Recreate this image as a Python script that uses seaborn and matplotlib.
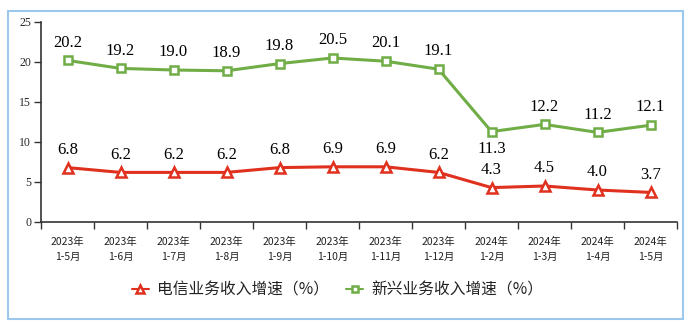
import matplotlib
matplotlib.use("Agg")
import matplotlib.pyplot as plt
import seaborn as sns
import pandas as pd
from matplotlib.patches import Rectangle

categories = ["2023年\n1-5月", "2023年\n1-6月", "2023年\n1-7月", "2023年\n1-8月", "2023年\n1-9月",
              "2023年\n1-10月", "2023年\n1-11月", "2023年\n1-12月", "2024年\n1-2月", "2024年\n1-3月",
              "2024年\n1-4月", "2024年\n1-5月"]
telecom = [6.8, 6.2, 6.2, 6.2, 6.8, 6.9, 6.9, 6.2, 4.3, 4.5, 4.0, 3.7]
emerging = [20.2, 19.2, 19.0, 18.9, 19.8, 20.5, 20.1, 19.1, 11.3, 12.2, 11.2, 12.1]
series_names = ["电信业务收入增速（%）", "新兴业务收入增速（%）"]
yticks = [0, 5, 10, 15, 20, 25]

sns.set_style("white")
plt.rcParams['font.family'] = ['Noto Sans CJK SC', 'DejaVu Sans']

fig = plt.figure(figsize=(6.95, 3.27), dpi=100)
ax = fig.add_axes([41/695, 1 - 222/327, (677-41)/695, 200/327])

x = list(range(len(categories)))
df = pd.DataFrame({"x": x * 2, "y": telecom + emerging,
                   "s": [series_names[0]] * len(x) + [series_names[1]] * len(x)})

red = "#E0301E"
green = "#70AD47"
sns.lineplot(data=df[df.s == series_names[0]], x="x", y="y", ax=ax, color=red, lw=2.2,
             marker="^", markersize=7, markerfacecolor="white", markeredgecolor=red, markeredgewidth=1.8,
             label=series_names[0])
sns.lineplot(data=df[df.s == series_names[1]], x="x", y="y", ax=ax, color=green, lw=2.2,
             marker="s", markersize=6, markerfacecolor="white", markeredgecolor=green, markeredgewidth=1.8,
             label=series_names[1])

serif = ['Liberation Serif', 'DejaVu Serif']
for i, v in enumerate(telecom):
    ax.annotate(f"{v:.1f}", (i, v), xytext=(0, 7), textcoords="offset points", ha="center", va="bottom",
                fontsize=12, family=serif, color="black")
for i, v in enumerate(emerging):
    if v == 11.3:
        ax.annotate(f"{v:.1f}", (i, v), xytext=(0, -7), textcoords="offset points", ha="center", va="top",
                    fontsize=12, family=serif, color="black")
    else:
        ax.annotate(f"{v:.1f}", (i, v), xytext=(0, 7), textcoords="offset points", ha="center", va="bottom",
                    fontsize=12, family=serif, color="black")

ax.set_xlim(-0.5, len(categories) - 0.5)
ax.set_ylim(0, 25)
ax.set_yticks(yticks)
ax.set_yticklabels([str(t) for t in yticks], family=serif, fontsize=8.5)
ax.set_xticks([i - 0.5 for i in range(len(categories) + 1)], minor=False)
ax.set_xticklabels([""] * (len(categories) + 1))
ax.set_xticks(x, minor=True)
ax.set_xticklabels(categories, minor=True, fontsize=7.5, color="#222222", linespacing=1.6)
ax.tick_params(axis="x", which="major", bottom=True, length=5, direction="out", color="#333333", width=1)
ax.tick_params(axis="x", which="minor", bottom=False, length=0, pad=11)
ax.tick_params(axis="y", left=True, length=5, direction="out", color="#333333", width=1, pad=2)
ax.set_xlabel("")
ax.set_ylabel("")
for s in ["top", "right"]:
    ax.spines[s].set_visible(False)
for s in ["left", "bottom"]:
    ax.spines[s].set_color("#333333")
    ax.spines[s].set_linewidth(1.2)

leg = ax.legend(loc="center", bbox_to_anchor=(0.466, -0.34), ncol=2, frameon=False,
                fontsize=11.3, handlelength=1.1, columnspacing=1.1, handletextpad=0.5, markerscale=0.75)
for t in leg.get_texts():
    t.set_color("#222222")
for h in leg.get_lines():
    h.set_linewidth(1.5)

fig.patches.append(Rectangle((8/695, 1 - 319/327), (683-8)/695, (319-11)/327, transform=fig.transFigure,
                             fill=False, edgecolor="#9CC8EE", lw=1.5))

fig.savefig("out.png", dpi=100)
